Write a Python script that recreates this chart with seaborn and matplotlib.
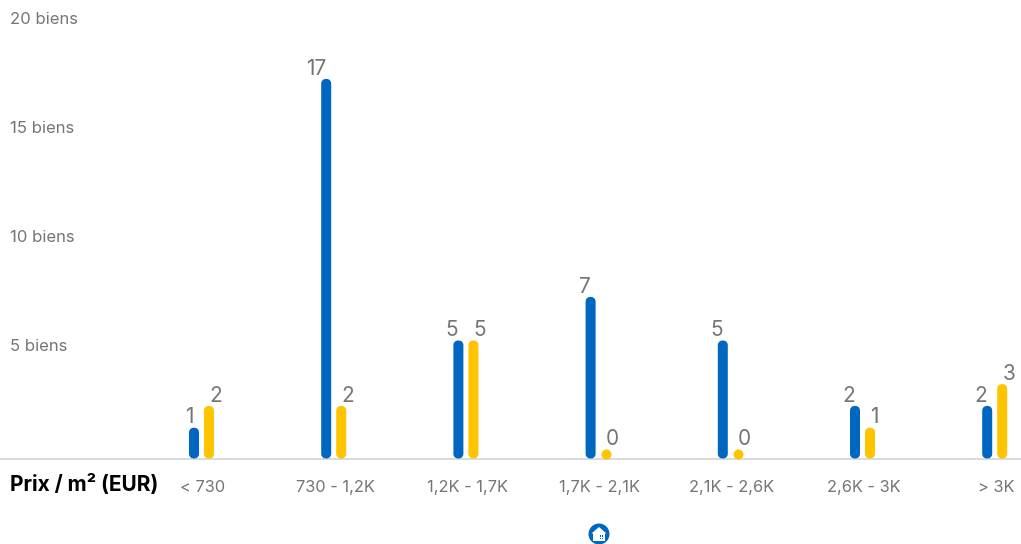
import matplotlib
matplotlib.use("Agg")
import matplotlib.pyplot as plt
from matplotlib.patches import Circle, Polygon, Rectangle
from matplotlib.transforms import IdentityTransform, ScaledTranslation
import pandas as pd
import seaborn as sns

categories = ["< 730", "730 - 1,2K", "1,2K - 1,7K", "1,7K - 2,1K", "2,1K - 2,6K", "2,6K - 3K", "> 3K"]
blue_values = [1, 17, 5, 7, 5, 2, 2]
yellow_values = [2, 2, 5, 0, 0, 1, 3]
y_ticks = [5, 10, 15, 20]
y_tick_labels = ["5 biens", "10 biens", "15 biens", "20 biens"]
axis_title = "Prix / m² (EUR)"

BLUE = "#0067C1"
YELLOW = "#FFC400"
GREY = "#757575"
W, H, DPI = 1021, 544, 100
px = 72 / DPI

sns.set_theme(style="white")
plt.rcParams["font.family"] = ["Inter", "DejaVu Sans"]

df = pd.DataFrame({
    "cat": categories * 2,
    "n": blue_values + yellow_values,
    "serie": ["a"] * len(categories) + ["b"] * len(categories),
})

fig = plt.figure(figsize=(W / DPI, H / DPI), dpi=DPI, facecolor="white")
ZERO = 454
ax = fig.add_axes([0, (H - ZERO) / H, 1, ZERO / H])
sns.barplot(data=df, x="cat", y="n", hue="serie", order=categories, hue_order=["a", "b"],
            palette=[BLUE, YELLOW], saturation=1, width=0.227, gap=0.933, legend=False, ax=ax)

unit = 21.8
spacing = 132.2
ax.set_xlim(-201.5 / spacing, (W - 201.5) / spacing)
ax.set_ylim(0, ZERO / unit)

for c, ha in zip(ax.containers, ["right", "left"]):
    for lab in ax.bar_label(c, fmt="%g", padding=3.4, fontsize=15, color=GREY):
        lab.set_ha(ha)
    for p in c.patches:
        p.set_edgecolor(p.get_facecolor())
        p.set_linewidth(9 * px)
        p.set_joinstyle("round")
        p.set_clip_on(False)
        p.set_snap(False)
        p.set_zorder(3)
        if p.get_height() == 0:
            # a flat rectangle cannot show its rounded outline: draw it as a dot
            ax.plot(p.get_x() + p.get_width() / 2, 0, "o", ms=10 * px, mew=0,
                    color=p.get_facecolor(), clip_on=False, zorder=3)

for s in ["top", "left", "right"]:
    ax.spines[s].set_visible(False)
ax.spines["bottom"].set_position(("outward", 5 * px))
ax.spines["bottom"].set_color("#CFCFCF")
ax.spines["bottom"].set_linewidth(1.5 * px)

ax.set_yticks(y_ticks, y_tick_labels)
ax.tick_params(axis="y", length=0, pad=-10 * px, labelsize=12, labelcolor=GREY, direction="in")
for t in ax.get_yticklabels():
    t.set_ha("left")
ax.tick_params(axis="x", length=0, pad=15, labelsize=11.8, labelcolor=GREY)
shift = ScaledTranslation(1.5 * px / 72, 0, fig.dpi_scale_trans)
for t in ax.get_xticklabels():
    t.set_transform(t.get_transform() + shift)

ax.set_ylabel("")
ax.set_xlabel(axis_title, fontsize=15, fontweight="bold", color="black", ha="left", va="center")
ax.xaxis.set_label_coords(10 / W, -(484 - ZERO) / ZERO)
ax.patch.set_alpha(0)

# small house icon
I = IdentityTransform()
cx, cy = 599, H - 534
fig.add_artist(Circle((cx, cy), 10.5, transform=I, facecolor=BLUE, edgecolor="none"))
fig.add_artist(Polygon([(cx - 7.5, cy + 0.5), (cx, cy + 7), (cx + 7.5, cy + 0.5), (cx + 6, cy + 0.5), (cx + 6, cy - 7),
                        (cx - 6, cy - 7), (cx - 6, cy + 0.5)], closed=True, transform=I, facecolor="white", edgecolor="none"))
for dx, dy in [(0.5, -2.5), (2.5, -2.5), (0.5, -5), (2.5, -5)]:
    fig.add_artist(Rectangle((cx + dx, cy + dy), 1.5, 1.5, transform=I, facecolor=BLUE, edgecolor="none"))

fig.savefig("out.png", dpi=DPI)
